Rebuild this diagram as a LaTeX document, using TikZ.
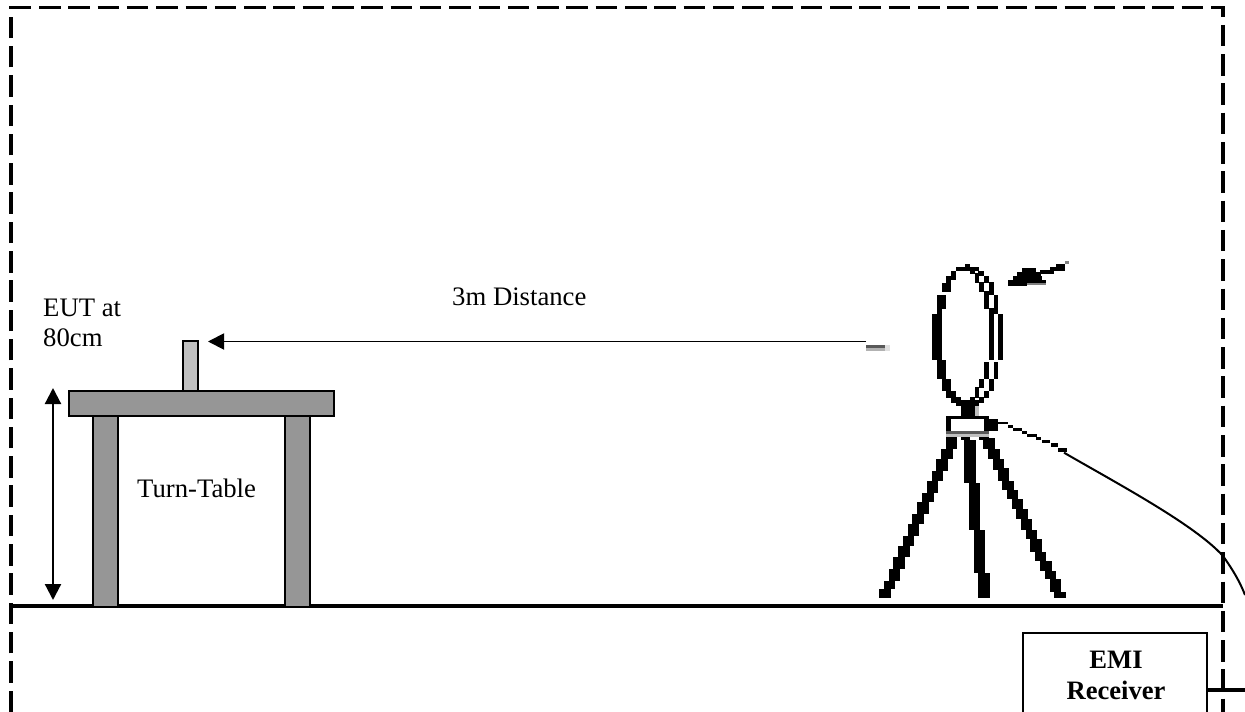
\documentclass[tikz,border=0pt]{standalone}
\usepackage{fontspec}
\setmainfont{Liberation Serif}
\usetikzlibrary{arrows.meta}
\tikzset{
  label text/.style={inner sep=0pt,anchor=base west,font=\fontsize{26.7}{31}\selectfont},
  bold text/.style={inner sep=0pt,anchor=base,font=\fontsize{26.6}{31}\selectfont\bfseries},
  frame line/.style={line width=3.1pt,dash pattern=on 21.5pt off 7.8pt},
  ground line/.style={line width=3.1pt},
  table part/.style={draw=black,line width=2pt,fill=tablegray},
  eut part/.style={draw=black,line width=1.8pt,fill=eutgray},
  dim arrow/.style={line width=2.2pt,{Triangle[length=16pt,width=16pt]}-{Triangle[length=16pt,width=16pt]}},
  range arrow/.style={line width=1.9pt,-{Triangle[length=16pt,width=16pt]}},
  cable/.style={line width=2pt},
  zoomA/.style={shift={(850,240)},x=0.33333pt,y=-0.33333pt},
  zoomB/.style={shift={(860,420)},x=0.33333pt,y=-0.33333pt},
}
\definecolor{tablegray}{HTML}{969696}
\definecolor{eutgray}{HTML}{C0C0C0}
\begin{document}
\begin{tikzpicture}[x=1pt,y=-1pt]
\useasboundingbox (0,0) rectangle (1245,712);
\clip (0,0) rectangle (1245,712);
% frame
\draw[frame line] (11,712) -- (11,7.5) -- (1223,7.5) -- (1223,712);
\draw[ground line] (11,606) -- (1223,606);
% table
\node[table part,minimum width=24.5pt,minimum height=192pt,inner sep=0pt] (legL) at (105.7,511) {};
\node[table part,minimum width=24.5pt,minimum height=192pt,inner sep=0pt] (legR) at (297.7,511) {};
\node[table part,minimum width=264.5pt,minimum height=24.5pt,inner sep=0pt] (top) at (201.7,403.7) {};
\node[eut part,minimum width=15pt,minimum height=50pt,inner sep=0pt] (eut) at (190.5,366.3) {};
% labels
\node[label text] (eutlabel) at (43,316) {EUT at};
\node[label text] (eutlabelb) at (43,346) {80cm};
\node[label text] (dist) at (452,305) {3m Distance};
\node[label text] (tt) at (137,497) {Turn-Table};
% arrows
\coordinate (dimtop) at (53,388);
\coordinate (dimbot) at (53,600);
\draw[dim arrow] (dimtop) -- (dimbot);
\coordinate (antfoot) at (866,341.5);
\coordinate (eutarrow) at (208,341.5);
\draw[range arrow] (antfoot) -- (eutarrow);
% antenna
\begin{scope}[zoomA]
\foreach \a/\b/\c/\d in {
 345/72/360/84, 318/82/385/93, 303/93/318/120, 288/110/303/130, 276/130/303/155,
 261/165/288/205, 261/205/275/222, 246/222/275/360, 261/360/288/417, 276/417/303/453,
 288/453/318/472, 303/472/333/487, 318/482/387/498,
 360/84/375/100, 385/93/402/108, 402/110/417/128, 417/128/432/165, 432/165/444/205,
 417/205/444/222, 444/222/458/360, 432/368/444/417, 417/417/432/453, 402/453/417/472,
 387/472/402/487,
 375/100/387/128, 387/128/402/155, 402/155/417/205, 417/222/432/360, 402/368/417/417,
 387/417/402/443, 375/443/387/472, 360/472/375/480,
 333/498/375/528, 288/528/417/537, 288/537/303/573, 402/537/444/573,
 444/546/474/552, 474/555/489/564, 489/564/516/573, 516/573/531/582, 531/582/558/591, 558/591/573/600,
 516/84/558/104, 503/98/572/115, 489/110/575/122, 474/120/587/130, 474/130/530/136,
 572/92/610/102, 600/82/645/92, 620/74/645/84,
 288/590/318/598, 333/590/360/598, 387/590/417/598}
 {\fill[black] (\a-1,\b-1) rectangle (\c+1,\d+1);}
\fill[black!25] (375,498) rectangle (387,528);
\fill[black!65] (288,573) rectangle (417,582);
\fill[black!25] (288,582) rectangle (417,590);
\fill[black!50] (530,130) rectangle (587,136);
\fill[black!50] (645,64) rectangle (657,72);
\fill[black!65] (48,315) rectangle (105,325);
\fill[black!30] (48,325) rectangle (105,332);
\fill[black!12] (105,315) rectangle (120,332);
\end{scope}
\begin{scope}[zoomB]
\foreach \a/\b/\c/\d in {
 260/50/288/88, 245/88/275/118, 232/118/260/152, 218/152/246/182, 203/182/232/218,
 190/218/218/246, 175/246/203/282, 160/282/190/312, 147/312/175/348, 132/348/160/378,
 118/378/147/412, 103/412/132/446, 90/446/118/482, 75/482/103/508, 60/508/90/534,
 316/60/345/190, 330/190/358/330, 345/330/372/460, 358/460/387/534,
 372/55/402/88, 387/88/416/118, 402/118/430/150, 416/145/444/182, 430/182/458/210,
 444/210/472/238, 458/238/486/268, 472/268/500/298, 486/298/514/330, 500/330/528/358,
 514/358/542/395, 528/395/556/424, 544/424/572/452, 558/452/586/478, 572/478/600/516,
 586/516/614/534}
 {\fill[black] (\a-3,\b) rectangle (\c+3,\d);}
\foreach \a/\b/\c/\d in {
 500/42/530/50, 545/60/570/68, 572/70/595/80, 595/84/620/96}
 {\fill[black] (\a,\b) rectangle (\c,\d);}
\coordinate (cablestart) at (612,98);
\coordinate (cableend) at (1155,525);
\end{scope}
% receiver
\node[draw=black,line width=2pt,fill=white,minimum width=184pt,minimum height=120pt,inner sep=0pt] (emi) at (1115,693) {};
\node[bold text] (emia) at (1116,668) {EMI};
\node[bold text] (emib) at (1116,699) {Receiver};
\coordinate (emiout) at (1245,690);
\draw[line width=3.4pt] (emi.east |- emiout) -- (emiout);
\draw[cable] (cablestart) .. controls (1120,485) and (1195,525) .. (1223,556) .. controls (1233,570) and (1240,582) .. (cableend);
\end{tikzpicture}
\end{document}
